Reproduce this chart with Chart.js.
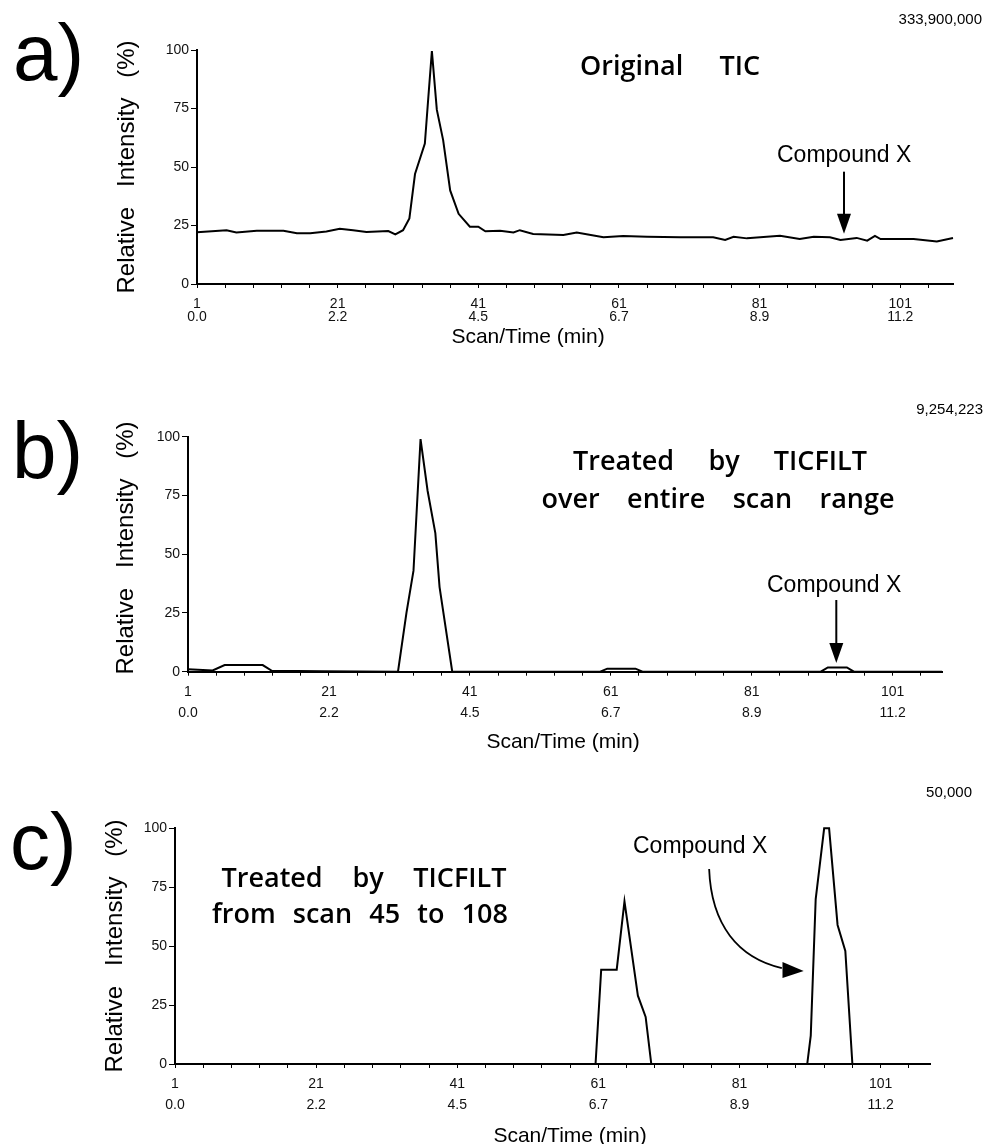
<!DOCTYPE html>
<html>
<head>
<meta charset="utf-8">
<script src="https://cdn.jsdelivr.net/npm/chart.js@4.4.0/dist/chart.umd.min.js"></script>
<style>
html, body { margin: 0; padding: 0; background: #fff; }
#wrap { position: relative; width: 997px; height: 1144px; overflow: hidden; }
#wrap canvas { position: absolute; left: 0; }
</style>
</head>
<body>
<div id="wrap">
  <canvas id="chartA" width="997" height="370" style="top:0px"></canvas>
  <canvas id="chartB" width="997" height="390" style="top:370px"></canvas>
  <canvas id="chartC" width="997" height="384" style="top:760px"></canvas>
</div>
<script>
// axis labels
const scanTicks = [1, 21, 41, 61, 81, 101];
const timeTicks = ['0.0', '2.2', '4.5', '6.7', '8.9', '11.2'];
const yTicks = [0, 25, 50, 75, 100];
const minorStep = 4;

// a) original TIC
const scanA = [1, 5.2, 6.6, 9.5, 13.3, 15.2, 17.1, 19.4, 21.3, 23.2, 25.1, 28.2, 29.2, 30.3, 31.2, 32, 33.4, 33.9, 34.4,
  35.1, 36, 37, 38.2, 39.8, 41, 42, 44.1, 46, 46.9, 48.8, 53.1, 55, 58.8, 61.6, 65, 69.7, 74.4, 76.1, 77.3, 79.2,
  83.9, 86.7, 88.7, 91, 92.5, 94.8, 96.3, 97.4, 98.2, 102.9, 106.2, 108.5];
const intensityA = [22.1, 23, 22, 22.8, 22.8, 21.7, 21.7, 22.4, 23.6, 23, 22.2, 22.6, 21.2, 23, 28, 47, 60, 80, 99.5,
  74.5, 61.5, 40, 30, 24.5, 24.5, 22.5, 22.8, 22, 23, 21.4, 20.9, 22, 20, 20.5, 20.2, 20, 20, 18.8, 20.2, 19.5,
  20.6, 19.2, 20.2, 20, 18.8, 19.7, 18.5, 20.6, 19.2, 19.2, 18.2, 19.7];

// b) TICFILT over entire scan range
const scanB = [1, 4.5, 6.2, 11.6, 12.9, 20, 30.8, 32, 33, 34, 35, 36.1, 36.7, 38.5, 45, 59.5, 60.5, 64.5, 65.5,
  80, 90.8, 91.8, 94.5, 95.5, 108];
const intensityB = [1, 0.5, 2.8, 2.8, 0.4, 0.2, 0, 25, 43, 99, 77, 59, 36, 0, 0, 0, 1.3, 1.3, 0,
  0, 0, 1.8, 1.8, 0, 0];

// c) TICFILT from scan 45 to 108
const scanC = [1, 60.6, 61.4, 63.6, 64.7, 66.6, 67.7, 68.5, 90.6, 91.1, 91.8, 93, 93.7, 94.9, 96, 97, 108];
const intensityC = [0, 0, 40, 40, 69, 29, 20, 0, 0, 12, 70, 100, 100, 59, 48, 0, 0];

const labelFont = '"Liberation Sans", Arial, sans-serif';
const titleFont = '"Open Sans", "Liberation Sans", sans-serif';

// words spread so the line fills a given width
function spread(ctx, words, cx, y, width) {
    const ws = words.map(w => ctx.measureText(w).width);
    const total = ws.reduce((a, b) => a + b, 0);
    const gap = (width - total) / (words.length - 1);
    let x = cx - width / 2;
    ctx.textAlign = 'left';
    words.forEach((w, i) => { ctx.fillText(w, x, y); x += ws[i] + gap; });
}

function arrowDown(ctx, px, y1, y2) {
    ctx.lineWidth = 2;
    ctx.beginPath(); ctx.moveTo(px, y1); ctx.lineTo(px, y2 - 12); ctx.stroke();
    ctx.beginPath(); ctx.moveTo(px - 7, y2 - 20); ctx.lineTo(px + 7, y2 - 20); ctx.lineTo(px, y2); ctx.closePath(); ctx.fill();
}

function drawCommon(ctx, p) {
    ctx.fillStyle = '#000';
    ctx.strokeStyle = '#000';
    ctx.textBaseline = 'alphabetic';
    // panel letter
    ctx.font = '80px ' + labelFont;
    ctx.textAlign = 'left';
    ctx.fillText(p.letter, p.letterX, p.letterY);
    // titles
    ctx.font = '600 27px ' + titleFont;
    p.lines.forEach(l => spread(ctx, l.words, l.cx, l.y, l.w));
    // compound label
    ctx.font = '23px ' + labelFont;
    ctx.textAlign = 'left';
    ctx.fillText('Compound X', p.cmpX, p.cmpY);
    // full scale counts
    ctx.font = '15px ' + labelFont;
    ctx.textAlign = 'right';
    ctx.textBaseline = 'middle';
    ctx.fillText(p.max, p.maxX, p.maxY);
    // y title
    ctx.save();
    ctx.translate(p.yTitleX, p.yTitleY);
    ctx.rotate(-Math.PI / 2);
    ctx.font = '24px ' + labelFont;
    spread(ctx, ['Relative', 'Intensity', '(%)'], 0, 0, 253);
    ctx.restore();
    // x title
    ctx.textBaseline = 'alphabetic';
    ctx.font = '21px ' + labelFont;
    ctx.textAlign = 'center';
    ctx.fillText('Scan/Time (min)', p.xTitleX, p.xTitleY);
}

function makeChart(id, scans, values, o) {
    const points = scans.map((s, i) => ({ x: s, y: values[i] }));
    return new Chart(document.getElementById(id), {
        type: 'line',
        data: { datasets: [{ data: points, borderColor: '#000', borderWidth: 2, pointRadius: 0, tension: 0, fill: false, clip: false }] },
        options: {
            responsive: false,
            animation: false,
            layout: { padding: { left: o.left - 40, top: o.top, right: 997 - o.right, bottom: o.height - o.bottom - 50 } },
            plugins: { legend: { display: false }, tooltip: { enabled: false } },
            scales: {
                x: {
                    type: 'linear', min: 1, max: o.xMax,
                    afterBuildTicks: s => {
                        const t = [];
                        for (let v = 1; v <= o.xMax; v += minorStep) t.push({ value: v });
                        s.ticks = t;
                    },
                    afterFit: s => { s.height = 50; },
                    border: { display: true, color: '#000', width: 2 },
                    grid: { display: true, drawOnChartArea: false, drawTicks: true, tickLength: 4, tickColor: '#000', tickWidth: 1 },
                    ticks: {
                        autoSkip: false, maxRotation: 0, padding: o.tickPad, color: '#111',
                        font: { family: labelFont, size: 14, lineHeight: o.lineH },
                        callback: v => {
                            const i = scanTicks.indexOf(v);
                            return i < 0 ? '' : [String(v), timeTicks[i]];
                        }
                    }
                },
                y: {
                    min: 0, max: 100,
                    afterBuildTicks: s => { s.ticks = yTicks.map(v => ({ value: v })); },
                    afterFit: s => { s.width = 40; },
                    border: { display: true, color: '#000', width: 2 },
                    grid: { display: true, drawOnChartArea: false, drawTicks: true, tickLength: 6, tickColor: '#000', tickWidth: 1 },
                    ticks: { padding: 2, color: '#111', font: { family: labelFont, size: 14 } }
                }
            }
        },
        plugins: [{
            id: 'notes',
            afterDraw: c => {
                const ctx = c.ctx;
                ctx.save();
                o.arrows(ctx, c.scales.x, c.scales.y);
                ctx.translate(0, -o.top0);
                drawCommon(ctx, o.text);
                ctx.restore();
            }
        }]
    });
}

makeChart('chartA', scanA, intensityA, {
    top0: 0, height: 370, left: 197, top: 50, right: 953, bottom: 284, xMax: 108.5, tickPad: 10, lineH: 0.93,
    arrows: (ctx, x, y) => {
        ctx.fillStyle = '#000'; ctx.strokeStyle = '#000';
        arrowDown(ctx, x.getPixelForValue(93), y.getPixelForValue(48), y.getPixelForValue(21.5));
    },
    text: {
        letter: 'a)', letterX: 13, letterY: 80,
        lines: [{ words: ['Original', 'TIC'], cx: 670, y: 75, w: 180 }],
        cmpX: 777, cmpY: 162,
        max: '333,900,000', maxX: 982, maxY: 20,
        yTitleX: 127, yTitleY: 167,
        xTitleX: 528, xTitleY: 343
    }
});

makeChart('chartB', scanB, intensityB, {
    top0: 370, height: 390, left: 188, top: 66.7, right: 942, bottom: 301.7, xMax: 108, tickPad: 6, lineH: 1.5,
    arrows: (ctx, x, y) => {
        ctx.fillStyle = '#000'; ctx.strokeStyle = '#000';
        arrowDown(ctx, x.getPixelForValue(93), y.getPixelForValue(30.5), y.getPixelForValue(3.7));
    },
    text: {
        letter: 'b)', letterX: 12, letterY: 478,
        lines: [
            { words: ['Treated', 'by', 'TICFILT'], cx: 720, y: 470, w: 294 },
            { words: ['over', 'entire', 'scan', 'range'], cx: 718, y: 508, w: 353 }
        ],
        cmpX: 767, cmpY: 592,
        max: '9,254,223', maxX: 983, maxY: 410,
        yTitleX: 126, yTitleY: 548,
        xTitleX: 563, xTitleY: 748
    }
});

makeChart('chartC', scanC, intensityC, {
    top0: 760, height: 384, left: 175, top: 68.3, right: 930, bottom: 304, xMax: 108, tickPad: 6, lineH: 1.5,
    arrows: (ctx, x, y) => {
        ctx.fillStyle = '#000'; ctx.strokeStyle = '#000';
        ctx.lineWidth = 1.8;
        const px = v => x.getPixelForValue(v), py = v => y.getPixelForValue(v);
        ctx.beginPath();
        ctx.moveTo(px(76.7), py(82.7));
        ctx.bezierCurveTo(px(77), py(59), px(80.8), py(45), px(87), py(40.7));
        ctx.stroke();
        ctx.beginPath();
        ctx.moveTo(px(90.1), py(39.5));
        ctx.lineTo(px(87.1), py(43.3));
        ctx.lineTo(px(87.1), py(36.5));
        ctx.closePath(); ctx.fill();
    },
    text: {
        letter: 'c)', letterX: 10, letterY: 869,
        lines: [
            { words: ['Treated', 'by', 'TICFILT'], cx: 364, y: 887, w: 285 },
            { words: ['from', 'scan', '45', 'to', '108'], cx: 360, y: 923, w: 296 }
        ],
        cmpX: 633, cmpY: 853,
        max: '50,000', maxX: 972, maxY: 793,
        yTitleX: 115, yTitleY: 946,
        xTitleX: 570, xTitleY: 1142
    }
});
</script>
</body>
</html>
